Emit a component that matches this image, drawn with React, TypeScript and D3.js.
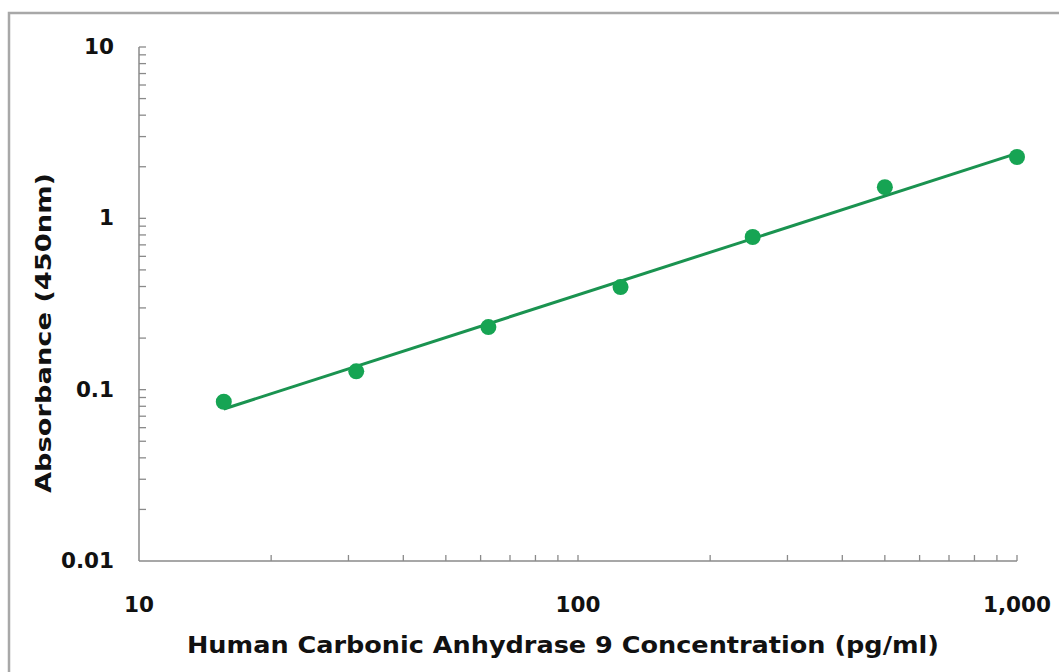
import { useEffect, useRef } from 'react'
import * as d3 from 'd3'

// standard curve points (pg/ml vs OD450)
const concentrations = [15.6, 31.25, 62.5, 125, 250, 500, 1000]
const absorbances = [0.085, 0.128, 0.232, 0.397, 0.778, 1.52, 2.28]

const xTickValues = [10, 100, 1000]
const xTickLabels = ['10', '100', '1,000']
const yTickValues = [0.01, 0.1, 1, 10]
const yTickLabels = ['0.01', '0.1', '1', '10']

const xTitle = 'Human Carbonic Anhydrase 9 Concentration (pg/ml)'
const yTitle = 'Absorbance (450nm)'

const App = () => {
  const svgRef = useRef<SVGSVGElement | null>(null)

  useEffect(() => {
    document.body.style.margin = '0'
    if (!svgRef.current) return

    const svg = d3.select(svgRef.current)
    svg.selectAll('*').remove()

    const width = 1059
    const height = 672
    const margin = { top: 47, right: 42, bottom: 111, left: 139 }
    const font = '"DejaVu Sans", Arial, sans-serif'

    svg.attr('width', width).attr('height', height)

    // white background + outer frame
    svg.append('rect').attr('width', width).attr('height', height).attr('fill', 'white')
    svg
      .append('rect')
      .attr('x', 9)
      .attr('y', 13)
      .attr('width', width + 20)
      .attr('height', height + 20)
      .attr('fill', 'none')
      .attr('stroke', '#a8a8a8')
      .attr('stroke-width', 2.5)

    const x = d3
      .scaleLog()
      .domain([10, 1000])
      .range([margin.left, width - margin.right])

    const y = d3
      .scaleLog()
      .domain([0.01, 10])
      .range([height - margin.bottom, margin.top])

    const axisColor = '#8a8a8a'

    // minor ticks, x axis (pointing up)
    const xMinor: number[] = []
    for (let dec = 10; dec < 1000; dec *= 10) {
      for (let k = 2; k <= 10; k++) xMinor.push(dec * k)
    }
    const y0 = y(0.01)
    svg
      .append('g')
      .selectAll('line')
      .data(xMinor)
      .join('line')
      .attr('x1', (d) => x(d))
      .attr('x2', (d) => x(d))
      .attr('y1', y0)
      .attr('y2', y0 - 6)
      .attr('stroke', axisColor)
      .attr('stroke-width', 1.3)

    // minor ticks, y axis (pointing right)
    const yMinor: number[] = []
    for (let dec = 0.01; dec < 9; dec *= 10) {
      for (let k = 2; k <= 10; k++) yMinor.push(dec * k)
    }
    const x0 = x(10)
    svg
      .append('g')
      .selectAll('line')
      .data(yMinor)
      .join('line')
      .attr('x1', x0)
      .attr('x2', x0 + 7)
      .attr('y1', (d) => y(d))
      .attr('y2', (d) => y(d))
      .attr('stroke', axisColor)
      .attr('stroke-width', 1.3)

    // axis lines
    svg
      .append('line')
      .attr('x1', x0)
      .attr('x2', x0)
      .attr('y1', y(10))
      .attr('y2', y0)
      .attr('stroke', axisColor)
      .attr('stroke-width', 1.5)
    svg
      .append('line')
      .attr('x1', x0)
      .attr('x2', x(1000))
      .attr('y1', y0)
      .attr('y2', y0)
      .attr('stroke', axisColor)
      .attr('stroke-width', 1.5)

    // tick labels
    svg
      .append('g')
      .selectAll('text')
      .data(xTickValues)
      .join('text')
      .attr('x', (d) => x(d))
      .attr('y', y0 + 51)
      .attr('text-anchor', 'middle')
      .attr('font-family', font)
      .attr('font-weight', 'bold')
      .attr('font-size', 21.5)
      .attr('fill', '#111')
      .text((_, i) => xTickLabels[i])

    svg
      .append('g')
      .selectAll('text')
      .data(yTickValues)
      .join('text')
      .attr('x', x0 - 25)
      .attr('y', (d) => y(d) + 7)
      .attr('text-anchor', 'end')
      .attr('font-family', font)
      .attr('font-weight', 'bold')
      .attr('font-size', 21.5)
      .attr('fill', '#111')
      .text((_, i) => yTickLabels[i])

    // axis titles
    svg
      .append('text')
      .attr('x', 563)
      .attr('y', 653)
      .attr('text-anchor', 'middle')
      .attr('font-family', font)
      .attr('font-weight', 'bold')
      .attr('font-size', 23)
      .attr('textLength', 752)
      .attr('lengthAdjust', 'spacingAndGlyphs')
      .attr('fill', '#111')
      .text(xTitle)

    svg
      .append('text')
      .attr('transform', `translate(51, 333) rotate(-90)`)
      .attr('text-anchor', 'middle')
      .attr('font-family', font)
      .attr('font-weight', 'bold')
      .attr('font-size', 22)
      .attr('textLength', 320)
      .attr('lengthAdjust', 'spacingAndGlyphs')
      .attr('fill', '#111')
      .text(yTitle)

    // power fit in log-log space
    const lx = concentrations.map(Math.log10)
    const ly = absorbances.map(Math.log10)
    const mx = d3.mean(lx)!
    const my = d3.mean(ly)!
    const slope =
      d3.sum(lx, (v, i) => (v - mx) * (ly[i] - my)) / d3.sum(lx, (v) => (v - mx) ** 2)
    const intercept = my - slope * mx
    const fitX = [concentrations[0], concentrations[concentrations.length - 1]]

    const line = d3
      .line<number>()
      .x((d) => x(d))
      .y((d) => y(10 ** (intercept + slope * Math.log10(d))))

    svg
      .append('path')
      .datum(fitX)
      .attr('fill', 'none')
      .attr('stroke', '#1a9350')
      .attr('stroke-width', 3)
      .attr('d', line)

    // data points
    svg
      .append('g')
      .selectAll('circle')
      .data(concentrations)
      .join('circle')
      .attr('cx', (d) => x(d))
      .attr('cy', (_, i) => y(absorbances[i]))
      .attr('r', 8)
      .attr('fill', '#16a453')
  }, [])

  return <svg ref={svgRef} style={{ display: 'block' }}></svg>
}

export default App
